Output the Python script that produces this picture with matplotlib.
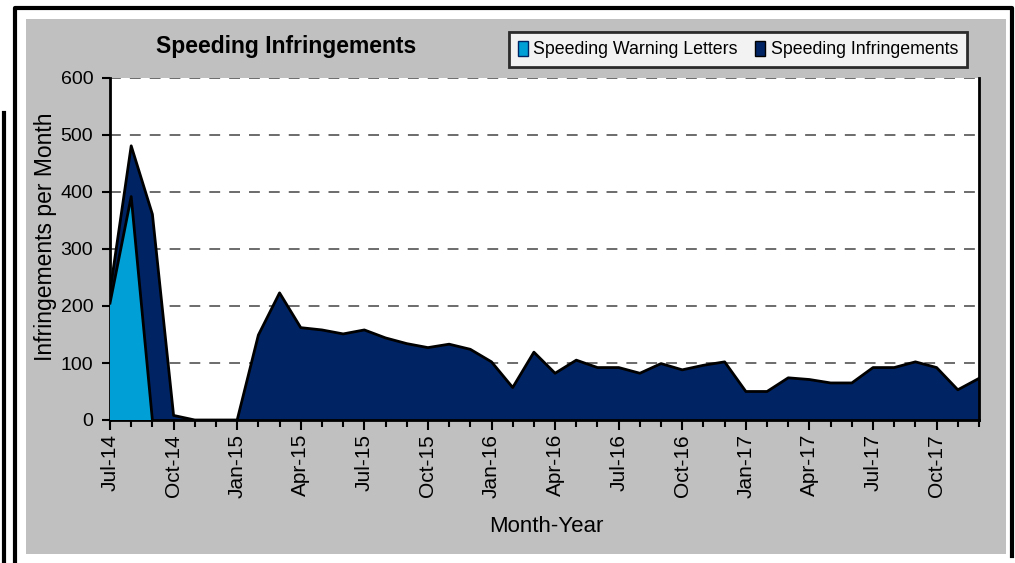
import matplotlib
matplotlib.use("Agg")
import matplotlib.pyplot as plt
from matplotlib.patches import Rectangle
from matplotlib.lines import Line2D
import numpy as np

plt.rcParams['font.family'] = ['Liberation Sans', 'DejaVu Sans']

# monthly series, Jul-14 .. Dec-17
months = ['Jul-14', 'Aug-14', 'Sep-14', 'Oct-14', 'Nov-14', 'Dec-14',
          'Jan-15', 'Feb-15', 'Mar-15', 'Apr-15', 'May-15', 'Jun-15',
          'Jul-15', 'Aug-15', 'Sep-15', 'Oct-15', 'Nov-15', 'Dec-15',
          'Jan-16', 'Feb-16', 'Mar-16', 'Apr-16', 'May-16', 'Jun-16',
          'Jul-16', 'Aug-16', 'Sep-16', 'Oct-16', 'Nov-16', 'Dec-16',
          'Jan-17', 'Feb-17', 'Mar-17', 'Apr-17', 'May-17', 'Jun-17',
          'Jul-17', 'Aug-17', 'Sep-17', 'Oct-17', 'Nov-17', 'Dec-17']
infringements = [225, 481, 361, 8, 0, 0,
                 0, 149, 223, 162, 158, 151,
                 158, 144, 134, 127, 133, 124,
                 102, 57, 119, 82, 105, 92,
                 92, 82, 99, 88, 96, 102,
                 50, 50, 74, 71, 65, 65,
                 92, 92, 102, 92, 53, 73]
warning_letters = [205, 392, 0]

W, H = 1015, 563
fig = plt.figure(figsize=(W / 100, H / 100), dpi=100)

# frame and grey chart area
fig.add_artist(Rectangle((26 / W, 1 - 554 / H), 980 / W, 535 / H,
                         transform=fig.transFigure, facecolor='#C0C0C0',
                         edgecolor='none', zorder=0))
fig.add_artist(Line2D([14.5 / W, 14.5 / W, 1011.5 / W, 1011.5 / W],
                      [0, 1 - 7.5 / H, 1 - 7.5 / H, 1 - 556 / H],
                      transform=fig.transFigure, color='black', lw=3))
fig.add_artist(Line2D([3.5 / W, 3.5 / W], [0, 1 - 113 / H],
                      transform=fig.transFigure, color='black', lw=3))

ax = fig.add_axes([110 / W, 1 - 420 / H, 869 / W, 342 / H])
ax.set_facecolor('white')

x = np.arange(len(months))
xw = np.arange(len(warning_letters))
ax.fill_between(x, infringements, 0, facecolor='#002463', edgecolor='none', zorder=2)
ax.plot(x, infringements, color='black', lw=2, zorder=3)
ax.fill_between(xw, warning_letters, 0, facecolor='#00A0D6', edgecolor='none', zorder=4)
ax.plot(xw, warning_letters, color='black', lw=2, zorder=5)

ax.set_xlim(0, len(months) - 1)
ax.set_ylim(0, 600)
ax.set_yticks(range(0, 601, 100))
for v in range(100, 601, 100):
    ax.axhline(v, color='#606060', lw=1.3, dashes=(6, 5), zorder=1)

ax.set_xticks(x, minor=True)
ax.set_xticks(x[::3])
ax.set_xticklabels(months[::3], rotation=90, fontsize=15)
ax.tick_params(axis='x', which='major', direction='out', length=7, width=1.5, pad=3)
ax.tick_params(axis='x', which='minor', direction='out', length=5, width=1.5)
ax.tick_params(axis='y', direction='out', length=6, width=1.5, labelsize=14, pad=6)

for s in ['left', 'bottom', 'right']:
    ax.spines[s].set_linewidth(2)
ax.spines['top'].set_visible(False)

ax.set_ylabel('Infringements per Month', fontsize=16.5, va='center')
ax.yaxis.set_label_coords(-0.074, 0.535)
fig.text(546 / W, 1 - 526 / H, 'Month-Year', fontsize=16, ha='center', va='center')
fig.text(286 / W, 1 - 47 / H, 'Speeding Infringements', fontsize=16.5,
         fontweight='bold', ha='center', va='center')

leg_handles = [Rectangle((0, 0), 1, 1, facecolor='#00A0D6', edgecolor='#002463'),
               Rectangle((0, 0), 1, 1, facecolor='#002463', edgecolor='black')]
leg = fig.legend(leg_handles, ['Speeding Warning Letters', 'Speeding Infringements'],
                 loc='center', bbox_to_anchor=(738 / W, 1 - 49.5 / H), ncol=2,
                 fontsize=12.8, frameon=True, fancybox=False, handlelength=0.55,
                 handleheight=0.9, handletextpad=0.3, columnspacing=1.0,
                 borderpad=0.5, borderaxespad=0)
leg.get_frame().set_edgecolor('black')
leg.get_frame().set_linewidth(2)

fig.savefig('out.png', dpi=100)
